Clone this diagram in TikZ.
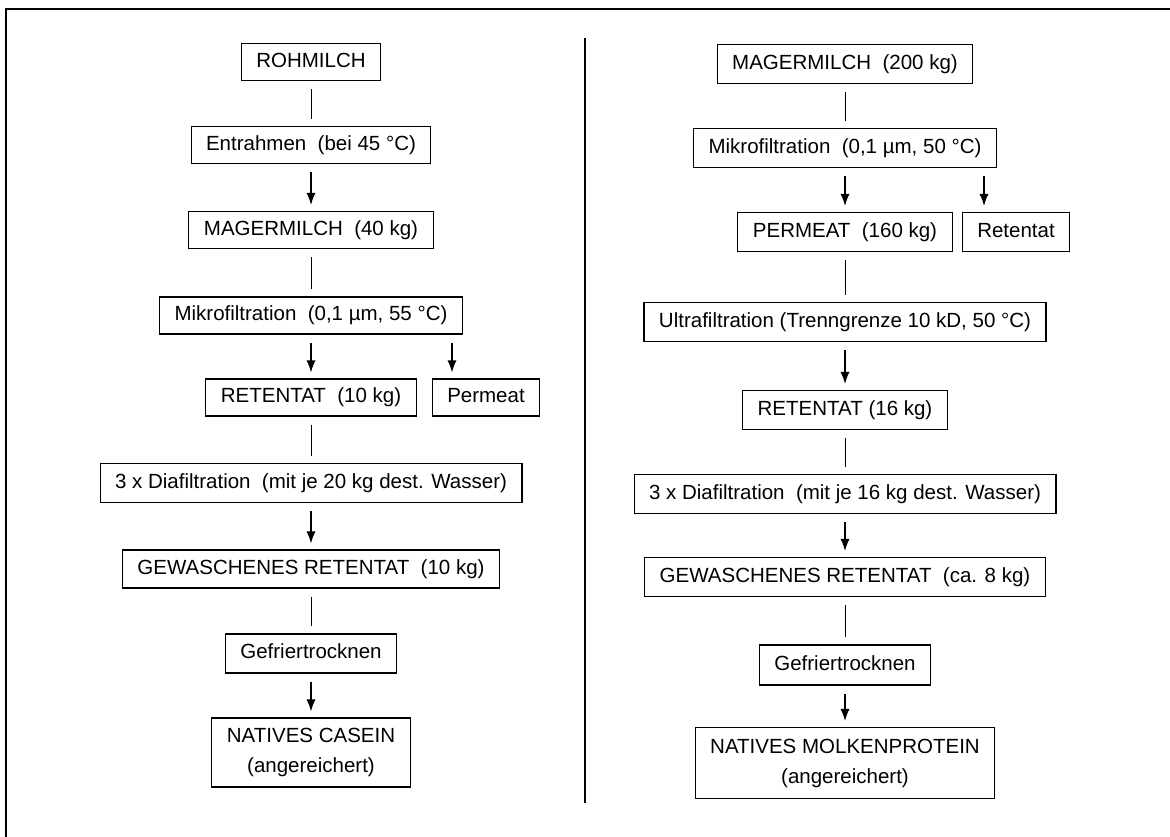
\documentclass[tikz,border=0pt]{standalone}
\usepackage{fontspec}
\setmainfont{Liberation Sans}
\usetikzlibrary{arrows.meta}
\begin{document}
\begin{tikzpicture}[x=1pt,y=-1pt,
  box/.style={draw, line width=1.1pt, inner xsep=15pt, inner ysep=0pt, minimum height=37pt,
    font=\fontsize{20.5}{30}\selectfont, text height=15pt, text depth=4.5pt},
  rbox/.style={box, minimum height=39pt},
  twobox/.style={draw, line width=1.1pt, inner xsep=15pt, inner ysep=4pt, minimum height=69pt,
    align=center, font=\fontsize{20.5}{30}\selectfont},
  conn/.style={line width=1pt, shorten <=8pt, shorten >=7pt},
  arr/.style={line width=1.2pt, -{Latex[length=12pt,width=9pt]}, shorten <=8pt, shorten >=6pt},
  frameline/.style={line width=1.6pt},
  divline/.style={line width=1.1pt}]
\useasboundingbox (0,0) rectangle (1170,837);
\fill[white] (0,0) rectangle (1170,837);
% frame
\coordinate (fa) at (6,837);
\coordinate (fb) at (6,9);
\coordinate (fc) at (1170,9);
\draw[frameline] (fa) -- (fb) -- (fc);
\coordinate (da) at (585,38);
\coordinate (db) at (585,803);
\draw[divline] (da) -- (db);
% left column
\node[box] (l1) at (311,62) {ROHMILCH};
\node[box] (l2) at (311,145) {Entrahmen\ \ (bei 45 °C)};
\node[box] (l3) at (311,230) {MAGERMILCH\ \ (40 kg)};
\node[box] (l4) at (311,315.5) {Mikrofiltration\ \ (0,1 µm, 55 °C)};
\node[box] (l5) at (311,397.5) {RETENTAT\ \ (10 kg)};
\node[box] (l5p) at (486,397.5) {Permeat};
\node[box, minimum height=39pt] (l6) at (311,483) {3 x Diafiltration\ \ (mit je 20 kg dest. Wasser)};
\node[box, minimum height=38pt] (l7) at (311,569) {GEWASCHENES RETENTAT\ \ (10 kg)};
\node[box, minimum height=39pt] (l8) at (311,653.5) {Gefriertrocknen};
\node[twobox] (l9) at (311,752.5) {NATIVES CASEIN\\(angereichert)};
\coordinate (lpx) at (452,0);
\draw[conn] (l1) -- (l2);
\draw[arr] (l2) -- (l3);
\draw[conn] (l3) -- (l4);
\draw[arr] (l4) -- (l5);
\draw[arr] (l4.south -| lpx) -- (l5p.north -| lpx);
\draw[conn] (l5) -- (l6);
\draw[arr] (l6) -- (l7);
\draw[conn] (l7) -- (l8);
\draw[arr] (l8) -- (l9);
% right column
\node[rbox] (r1) at (845,64) {MAGERMILCH\ \ (200 kg)};
\node[rbox] (r2) at (845,148) {Mikrofiltration\ \ (0,1 µm, 50 °C)};
\node[rbox] (r3) at (845,232) {PERMEAT\ \ (160 kg)};
\node[rbox] (r3r) at (1016,232) {Retentat};
\node[rbox] (r4) at (845,322) {Ultrafiltration (Trenngrenze 10 kD, 50 °C)};
\node[rbox] (r5) at (845,410) {RETENTAT (16 kg)};
\node[rbox] (r6) at (845,494) {3 x Diafiltration\ \ (mit je 16 kg dest. Wasser)};
\node[rbox] (r7) at (845,577) {GEWASCHENES RETENTAT\ \ (ca. 8 kg)};
\node[rbox, minimum height=40pt] (r8) at (845,665) {Gefriertrocknen};
\node[twobox, minimum height=71pt] (r9) at (845,763) {NATIVES MOLKENPROTEIN\\(angereichert)};
\coordinate (rpx) at (984,0);
\draw[conn] (r1) -- (r2);
\draw[arr] (r2) -- (r3);
\draw[arr] (r2.south -| rpx) -- (r3r.north -| rpx);
\draw[conn] (r3) -- (r4);
\draw[arr] (r4) -- (r5);
\draw[conn] (r5) -- (r6);
\draw[arr] (r6) -- (r7);
\draw[conn] (r7) -- (r8);
\draw[arr] (r8) -- (r9);
\end{tikzpicture}
\end{document}
